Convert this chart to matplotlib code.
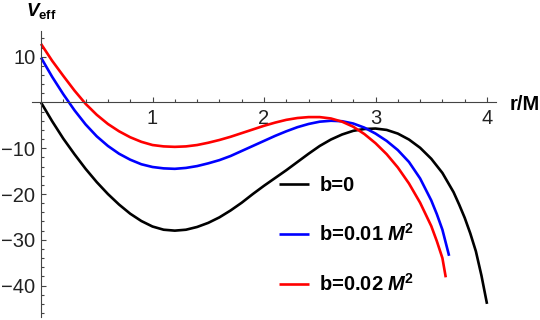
import numpy as np
import matplotlib
matplotlib.use('Agg')
import matplotlib.pyplot as plt
from matplotlib.ticker import FixedLocator

plt.rcParams['font.family'] = ['Liberation Sans', 'DejaVu Sans']
plt.rcParams['mathtext.fontset'] = 'custom'
plt.rcParams['mathtext.rm'] = 'Liberation Sans'
plt.rcParams['mathtext.it'] = 'Liberation Sans:italic'
plt.rcParams['mathtext.bf'] = 'Liberation Sans:bold'
try:
    plt.rcParams['mathtext.bfit'] = 'Liberation Sans:bold:italic'
except KeyError:
    pass

# values
r_b0 = [0.0, 0.1, 0.2, 0.3, 0.4, 0.5, 0.6, 0.7, 0.8, 0.9, 1.0, 1.1, 1.2, 1.3,
        1.4, 1.5, 1.6, 1.7, 1.8, 1.9, 2.0, 2.1, 2.2, 2.3, 2.4, 2.5, 2.6, 2.7,
        2.8, 2.9, 3.0, 3.1, 3.2, 3.3, 3.4, 3.5, 3.6, 3.7, 3.75, 3.8, 3.85,
        3.9, 3.95, 4.0]
v_b0 = [0.0, -4.1, -7.9, -11.3, -14.5, -17.4, -20.0, -22.3, -24.3, -25.9,
        -27.1, -27.8, -28.0, -27.8, -27.2, -26.3, -25.1, -23.6, -21.9, -20.0,
        -18.2, -16.5, -14.8, -13.0, -11.2, -9.5, -8.1, -7.0, -6.2, -5.8, -5.7,
        -6.0, -6.8, -8.1, -9.9, -12.3, -15.4, -19.6, -22.3, -25.2, -28.6,
        -32.5, -37.8, -44.0]

r_b1 = [0.0, 0.1, 0.2, 0.3, 0.4, 0.5, 0.6, 0.7, 0.8, 0.9, 1.0, 1.1, 1.2, 1.3,
        1.4, 1.5, 1.6, 1.7, 1.8, 1.9, 2.0, 2.1, 2.2, 2.3, 2.4, 2.5, 2.6, 2.7,
        2.8, 2.9, 3.0, 3.1, 3.2, 3.3, 3.4, 3.5, 3.55, 3.6, 3.66]
v_b1 = [9.8, 5.6, 1.8, -1.7, -4.8, -7.4, -9.5, -11.2, -12.5, -13.5, -14.1,
        -14.4, -14.5, -14.3, -13.9, -13.3, -12.6, -11.7, -10.6, -9.5, -8.4,
        -7.3, -6.3, -5.4, -4.7, -4.2, -4.0, -4.1, -4.6, -5.5, -6.8, -8.4,
        -10.4, -13.0, -16.6, -21.4, -24.4, -27.8, -33.5]

r_b2 = [0.0, 0.1, 0.2, 0.3, 0.4, 0.5, 0.6, 0.7, 0.8, 0.9, 1.0, 1.1, 1.2, 1.3,
        1.4, 1.5, 1.6, 1.7, 1.8, 1.9, 2.0, 2.1, 2.2, 2.3, 2.4, 2.5, 2.6, 2.7,
        2.8, 2.9, 3.0, 3.1, 3.2, 3.3, 3.4, 3.5, 3.55, 3.6, 3.63]
v_b2 = [12.8, 9.1, 5.8, 2.6, -0.3, -2.7, -4.7, -6.3, -7.6, -8.6, -9.3, -9.6,
        -9.7, -9.6, -9.3, -8.8, -8.2, -7.5, -6.7, -5.9, -5.1, -4.4, -3.8,
        -3.4, -3.2, -3.2, -3.5, -4.2, -5.3, -6.9, -8.9, -11.3, -14.2, -17.7,
        -21.9, -27.0, -30.3, -34.0, -38.2]

labels = ['b=0', r'b=0.01 $\mathbfit{M}^{\mathbf{2}}$',
          r'b=0.02 $\mathbfit{M}^{\mathbf{2}}$']
colors = ['black', '#0000ff', '#ff0000']

x_major = [1, 2, 3, 4]
y_major = [-40, -30, -20, -10, 10]

fig = plt.figure(figsize=(5.4, 3.2), dpi=100)
ax = fig.add_axes([0.0594, 0.0103, 0.859, 0.8913])

lines = []
for r, v, c in zip([r_b0, r_b1, r_b2], [v_b0, v_b1, v_b2], colors):
    ln, = ax.plot(r, v, color=c, lw=1.9, solid_capstyle='butt',
                  solid_joinstyle='round', clip_on=False)
    lines.append(ln)

ax.set_xlim(-0.08, 4.08)
ax.set_ylim(-46.8, 15.5)

for s in ['top', 'right']:
    ax.spines[s].set_visible(False)
ax.spines['left'].set_position(('data', 0))
ax.spines['bottom'].set_position(('data', 0))
for s in ['left', 'bottom']:
    ax.spines[s].set_color('#444444')
    ax.spines[s].set_linewidth(0.8)

ax.xaxis.set_major_locator(FixedLocator(x_major))
ax.xaxis.set_minor_locator(FixedLocator([0.2 * i for i in range(1, 21) if i % 5]))
ax.yaxis.set_major_locator(FixedLocator(y_major))
ax.yaxis.set_minor_locator(FixedLocator([2 * i for i in range(-23, 8) if i % 5]))
ax.set_xticklabels([str(t) for t in x_major])
ax.set_yticklabels(['\u2212' + str(-t) if t < 0 else str(t) for t in y_major])
ax.tick_params(which='both', direction='in', color='#444444', width=0.8,
               labelsize=14.5, labelcolor='#222222')
ax.tick_params(which='major', length=3.5)
ax.tick_params(which='minor', length=2.2)
ax.tick_params(axis='x', pad=5)
ax.tick_params(axis='y', pad=4)

fig.text(26 / 540, 1 - 16 / 320, r'$\mathbfit{V}_{\mathbf{eff}}$',
         fontsize=13.5, ha='left', va='baseline')
fig.text(510 / 540, 1 - 110 / 320, 'r/M', fontsize=14.5, fontweight='bold',
         ha='left', va='baseline')

leg = ax.legend(lines, labels, loc='upper left', frameon=False,
                bbox_to_anchor=(279 / 540, 1 - 176 / 320),
                bbox_transform=fig.transFigure,
                prop={'weight': 'bold', 'size': 14.5},
                handlelength=1.5, handletextpad=0.5, labelspacing=1.4,
                borderpad=0, borderaxespad=0)

fig.savefig('out.png', dpi=100)
